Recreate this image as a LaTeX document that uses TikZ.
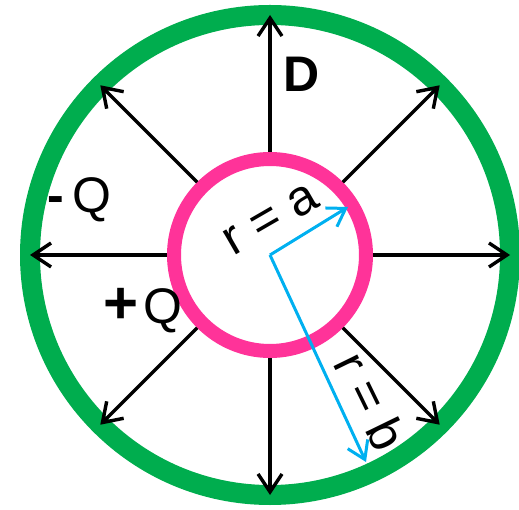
\documentclass[tikz,border=0pt]{standalone}
\usepackage{fontspec}
\setmainfont{Liberation Sans}
\usetikzlibrary{arrows.meta,calc}
\definecolor{shellgreen}{RGB}{0,173,78}
\definecolor{corepink}{RGB}{255,51,153}
\definecolor{radblue}{RGB}{0,176,240}
\begin{document}
\begin{tikzpicture}[x=1pt,y=1pt,
  field/.style={line width=3.4pt,-{Straight Barb[length=18pt,width=24pt,line width=3.4pt]}},
  radius arrow/.style={radblue,line width=3pt,-{Straight Barb[length=17pt,width=22pt,line width=3pt]}},
  lab/.style={font=\fontsize{50}{50}\selectfont,inner sep=0pt}]
\useasboundingbox (0,0) rectangle (519,509);
\coordinate (O) at (270,254);
% conductors
\draw[shellgreen,line width=20pt] (O) circle[radius=240];
\draw[corepink,line width=14pt] (O) circle[radius=96];
% field arrows
\foreach \a in {0,45,...,315}{
  \coordinate (s\a) at ($(O)+(\a:103)$);
  \coordinate (e\a) at ($(O)+(\a:240)$);
}
\foreach \a in {0,45,...,315}{
  \draw[field] (s\a) -- (e\a);
}
% radii
\coordinate (ra) at (348,302);
\coordinate (rb) at (366,47);
\draw[radius arrow] (O) -- (ra);
\draw[radius arrow] (O) -- (rb);
% labels
\node[lab,font=\fontsize{50}{50}\selectfont\bfseries] (D) at (302,435) {D};
\node[lab] (mQ) at (79,309) {\textbf{-}\,Q};
\node[lab] (pQ) at (143,198) {{\fontsize{60}{60}\selectfont\textbf{+}}\hspace{5pt}Q};
\node[lab,rotate=30] (la) at (271,289) {r = a};
\node[lab,rotate=-64] (lb) at (371,108) {r = b};
\end{tikzpicture}
\end{document}
